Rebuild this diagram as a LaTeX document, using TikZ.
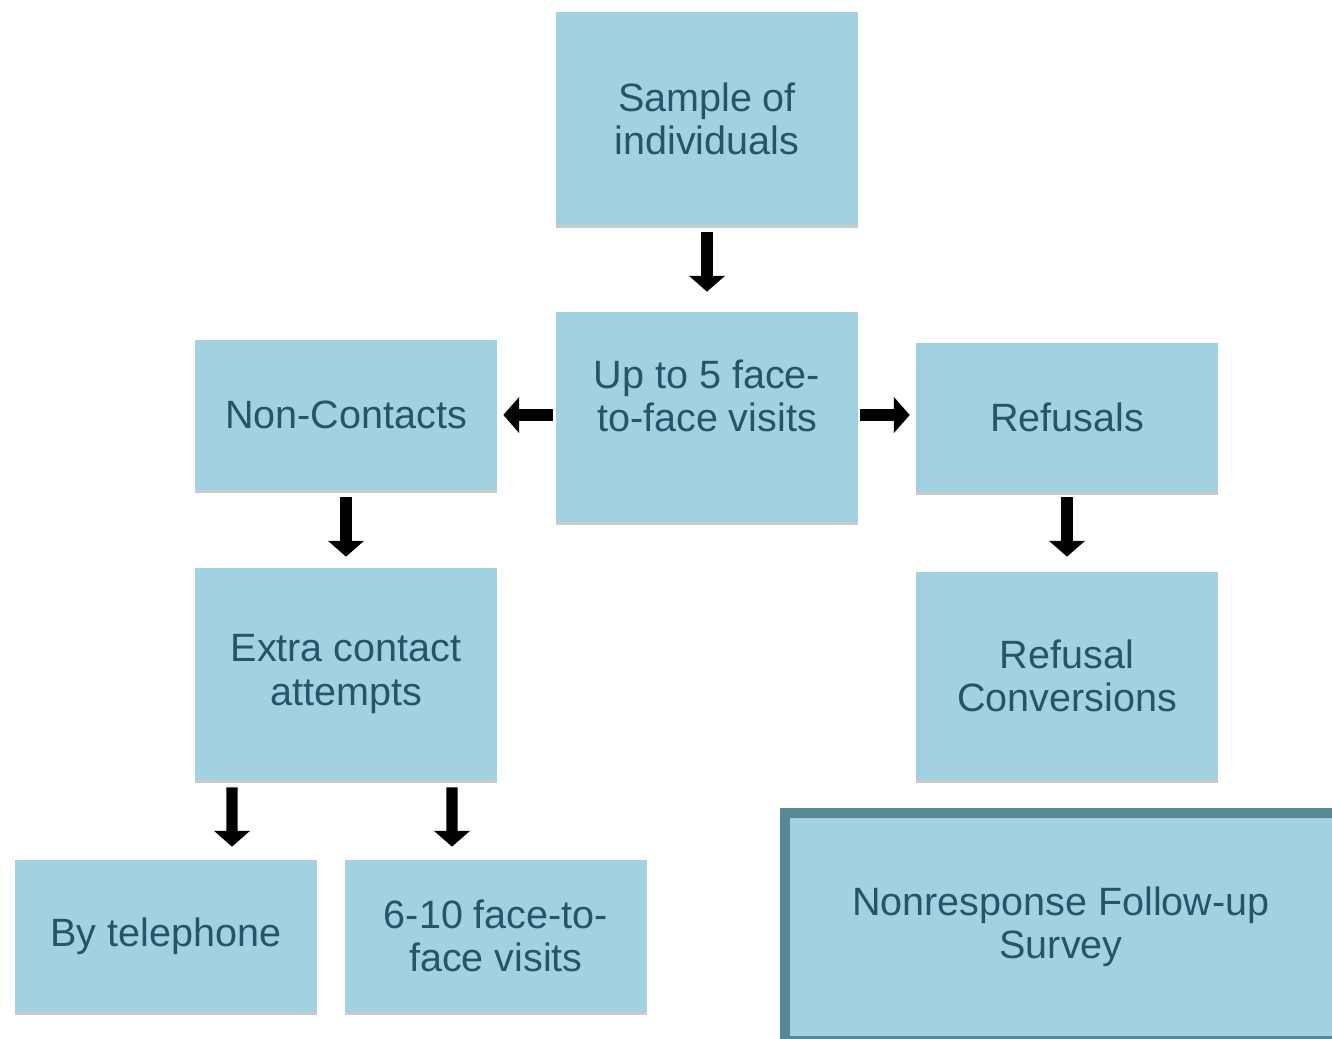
\documentclass[tikz,border=0pt]{standalone}
\usepackage{fontspec}
\setmainfont{Liberation Sans}
\definecolor{boxblue}{RGB}{162, 210, 226}
\definecolor{boxtext}{RGB}{38, 84, 104}
\definecolor{boxedge}{RGB}{86, 136, 150}
\usetikzlibrary{arrows.meta, positioning, calc, shadows}

\begin{document}
\begin{tikzpicture}[x=0.02cm, y=-0.02cm,
    stagebox/.style={fill=boxblue, minimum width=6.04cm, inner sep=0pt, align=center,
                     text=boxtext, font=\fontsize{22.5}{24.5}\selectfont,
                     drop shadow={shadow xshift=0pt, shadow yshift=-1.5pt, opacity=0.35, fill=black!60}},
    flowarrow/.style={line width=6.5pt, -{Triangle[width=20pt, length=9pt]}}]
    \useasboundingbox (0,0) rectangle (1332,1038);

    % Centre column
    \node[stagebox, minimum height=4.26cm] (sample) at (707,118.5) {Sample of\\individuals};
    \node[stagebox, minimum height=4.2cm] (visits) at (707,417) {Up to 5 face-\\to-face visits\\~};

    % Non-contacts
    \node[stagebox, minimum height=3cm] (noncont) at (346,415) {Non-Contacts};
    \node[stagebox, minimum height=4.24cm] (extra) at (346,674) {Extra contact\\attempts};
    \node[stagebox, minimum height=3.04cm] (phone) at (166,936) {By telephone};
    \node[stagebox, minimum height=3.04cm] (morevisits) at (496,936) {6-10 face-to-\\face visits};

    % Refusals
    \node[stagebox, minimum height=2.98cm] (refusals) at (1067,417.5) {Refusals};
    \node[stagebox, minimum height=4.16cm] (convert) at (1067,676) {Refusal\\Conversions};

    % Follow-up
    \node[stagebox, draw=boxedge, line width=5.7pt, minimum width=11.04cm,
          minimum height=4.56cm] (followup) at (1061,927) {Nonresponse Follow-up\\Survey};

    % Arrows
    \draw[flowarrow, shorten <=0.14cm, shorten >=0.4cm] (sample) -- (visits);
    \draw[flowarrow, shorten <=0.06cm, shorten >=0.12cm] (visits.west |- noncont) -- (noncont.east);
    \draw[flowarrow, shorten <=0.04cm, shorten >=0.12cm] (visits.east |- noncont) -- (refusals.west |- noncont);
    \draw[flowarrow, shorten <=0.14cm, shorten >=0.22cm] (noncont) -- (extra);
    \draw[flowarrow, shorten <=0.1cm, shorten >=0.3cm] (refusals) -- (convert);
    \draw[flowarrow, shorten <=0.14cm, shorten >=0.26cm] ([xshift=-2.28cm]extra.south) -- ([xshift=1.32cm]phone.north);
    \draw[flowarrow, shorten <=0.14cm, shorten >=0.26cm] ([xshift=2.12cm]extra.south) -- ([xshift=-0.88cm]morevisits.north);
\end{tikzpicture}
\end{document}
